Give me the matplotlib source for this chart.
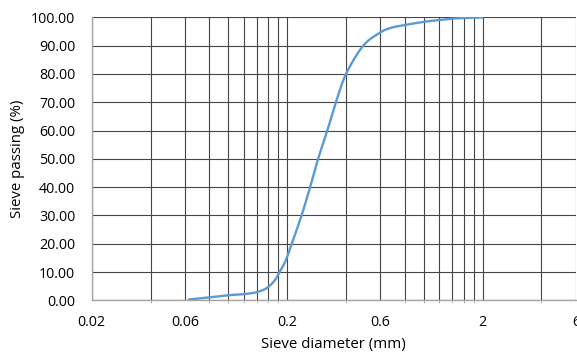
import matplotlib
matplotlib.use("Agg")
import matplotlib.pyplot as plt
import numpy as np
from matplotlib.ticker import FixedLocator, FixedFormatter, NullFormatter

plt.rcParams['font.family'] = ['Open Sans', 'DejaVu Sans']

# Data
diameter_mm = [0.063, 0.0806, 0.0999, 0.1207, 0.1396, 0.157, 0.173, 0.182, 0.195,
               0.211, 0.237, 0.262, 0.288, 0.321, 0.355, 0.400, 0.490, 0.600,
               0.671, 0.755, 0.994, 1.21, 1.41, 1.66, 2.0]
passing_pct = [0.3, 1.06, 1.8, 2.2, 2.9, 4.3, 7.1, 9.8, 13.5,
               20.0, 30.0, 40.0, 50.0, 60.0, 70.0, 80.0, 90.0, 94.7,
               96.2, 97.0, 98.4, 99.1, 99.6, 99.8, 100.0]

x_major_ticks = [0.02, 0.06, 0.2, 0.6, 2, 6]
x_major_labels = ["0.02", "0.06", "0.2", "0.6", "2", "6"]
x_grid_lines = [0.02, 0.04, 0.06, 0.08, 0.1, 0.12, 0.14, 0.16, 0.18, 0.2,
                0.4, 0.6, 0.8, 1.0, 1.2, 1.4, 1.6, 1.8, 2, 4, 6]
y_ticks = [0, 10, 20, 30, 40, 50, 60, 70, 80, 90, 100]


def smooth_curve(xs, ys, n=12):
    """Catmull-Rom smoothing in log-x space (like a spreadsheet 'smoothed line')."""
    lx = np.log10(np.asarray(xs, float))
    yy = np.asarray(ys, float)
    px = np.concatenate([[2 * lx[0] - lx[1]], lx, [2 * lx[-1] - lx[-2]]])
    py = np.concatenate([[2 * yy[0] - yy[1]], yy, [2 * yy[-1] - yy[-2]]])
    out_x, out_y = [], []
    t = np.linspace(0, 1, n, endpoint=False)
    for i in range(1, len(px) - 2):
        for arr, out in ((px, out_x), (py, out_y)):
            p0, p1, p2, p3 = arr[i - 1], arr[i], arr[i + 1], arr[i + 2]
            out.extend(0.5 * ((2 * p1) + (-p0 + p2) * t +
                              (2 * p0 - 5 * p1 + 4 * p2 - p3) * t ** 2 +
                              (-p0 + 3 * p1 - 3 * p2 + p3) * t ** 3))
    out_x.append(lx[-1])
    out_y.append(yy[-1])
    return 10 ** np.array(out_x), np.array(out_y)


fig = plt.figure(figsize=(5.77, 3.55), dpi=100)
ax = fig.add_axes([0.159, 0.154, 0.839, 0.797])

ax.set_xscale('log')
ax.set_xlim(0.02, 6)
ax.set_ylim(0, 100)

grid_color = '#454545'
ax.xaxis.set_minor_locator(FixedLocator(x_grid_lines))
ax.xaxis.set_minor_formatter(NullFormatter())
ax.xaxis.set_major_locator(FixedLocator(x_major_ticks))
ax.xaxis.set_major_formatter(FixedFormatter(x_major_labels))
ax.set_yticks(y_ticks)
ax.set_yticklabels([f"{v:.2f}" for v in y_ticks])

ax.grid(True, which='major', axis='y', color=grid_color, lw=0.8)
ax.grid(True, which='both', axis='x', color=grid_color, lw=0.8)
ax.set_axisbelow(True)

sx, sy = smooth_curve(diameter_mm, passing_pct)
ax.plot(sx, sy, color='#5B9BD5', lw=1.7, solid_capstyle='round',
        solid_joinstyle='round', zorder=3)

for s in ['top', 'right']:
    ax.spines[s].set_visible(False)
for s in ['left', 'bottom']:
    ax.spines[s].set_color('#a6a6a6')
    ax.spines[s].set_linewidth(1.0)

ax.tick_params(axis='y', length=0, pad=12, labelsize=10.3, labelcolor='black')
ax.tick_params(axis='x', which='major', length=0, pad=10.5, labelsize=10.3, labelcolor='black')
ax.tick_params(axis='x', which='minor', length=2, color='#a6a6a6')

ax.set_xlabel("Sieve diameter (mm)", fontsize=10.8, labelpad=5)
ax.set_ylabel("Sieve passing (%)", fontsize=10.8, labelpad=4)

fig.savefig("out.png", dpi=100)
